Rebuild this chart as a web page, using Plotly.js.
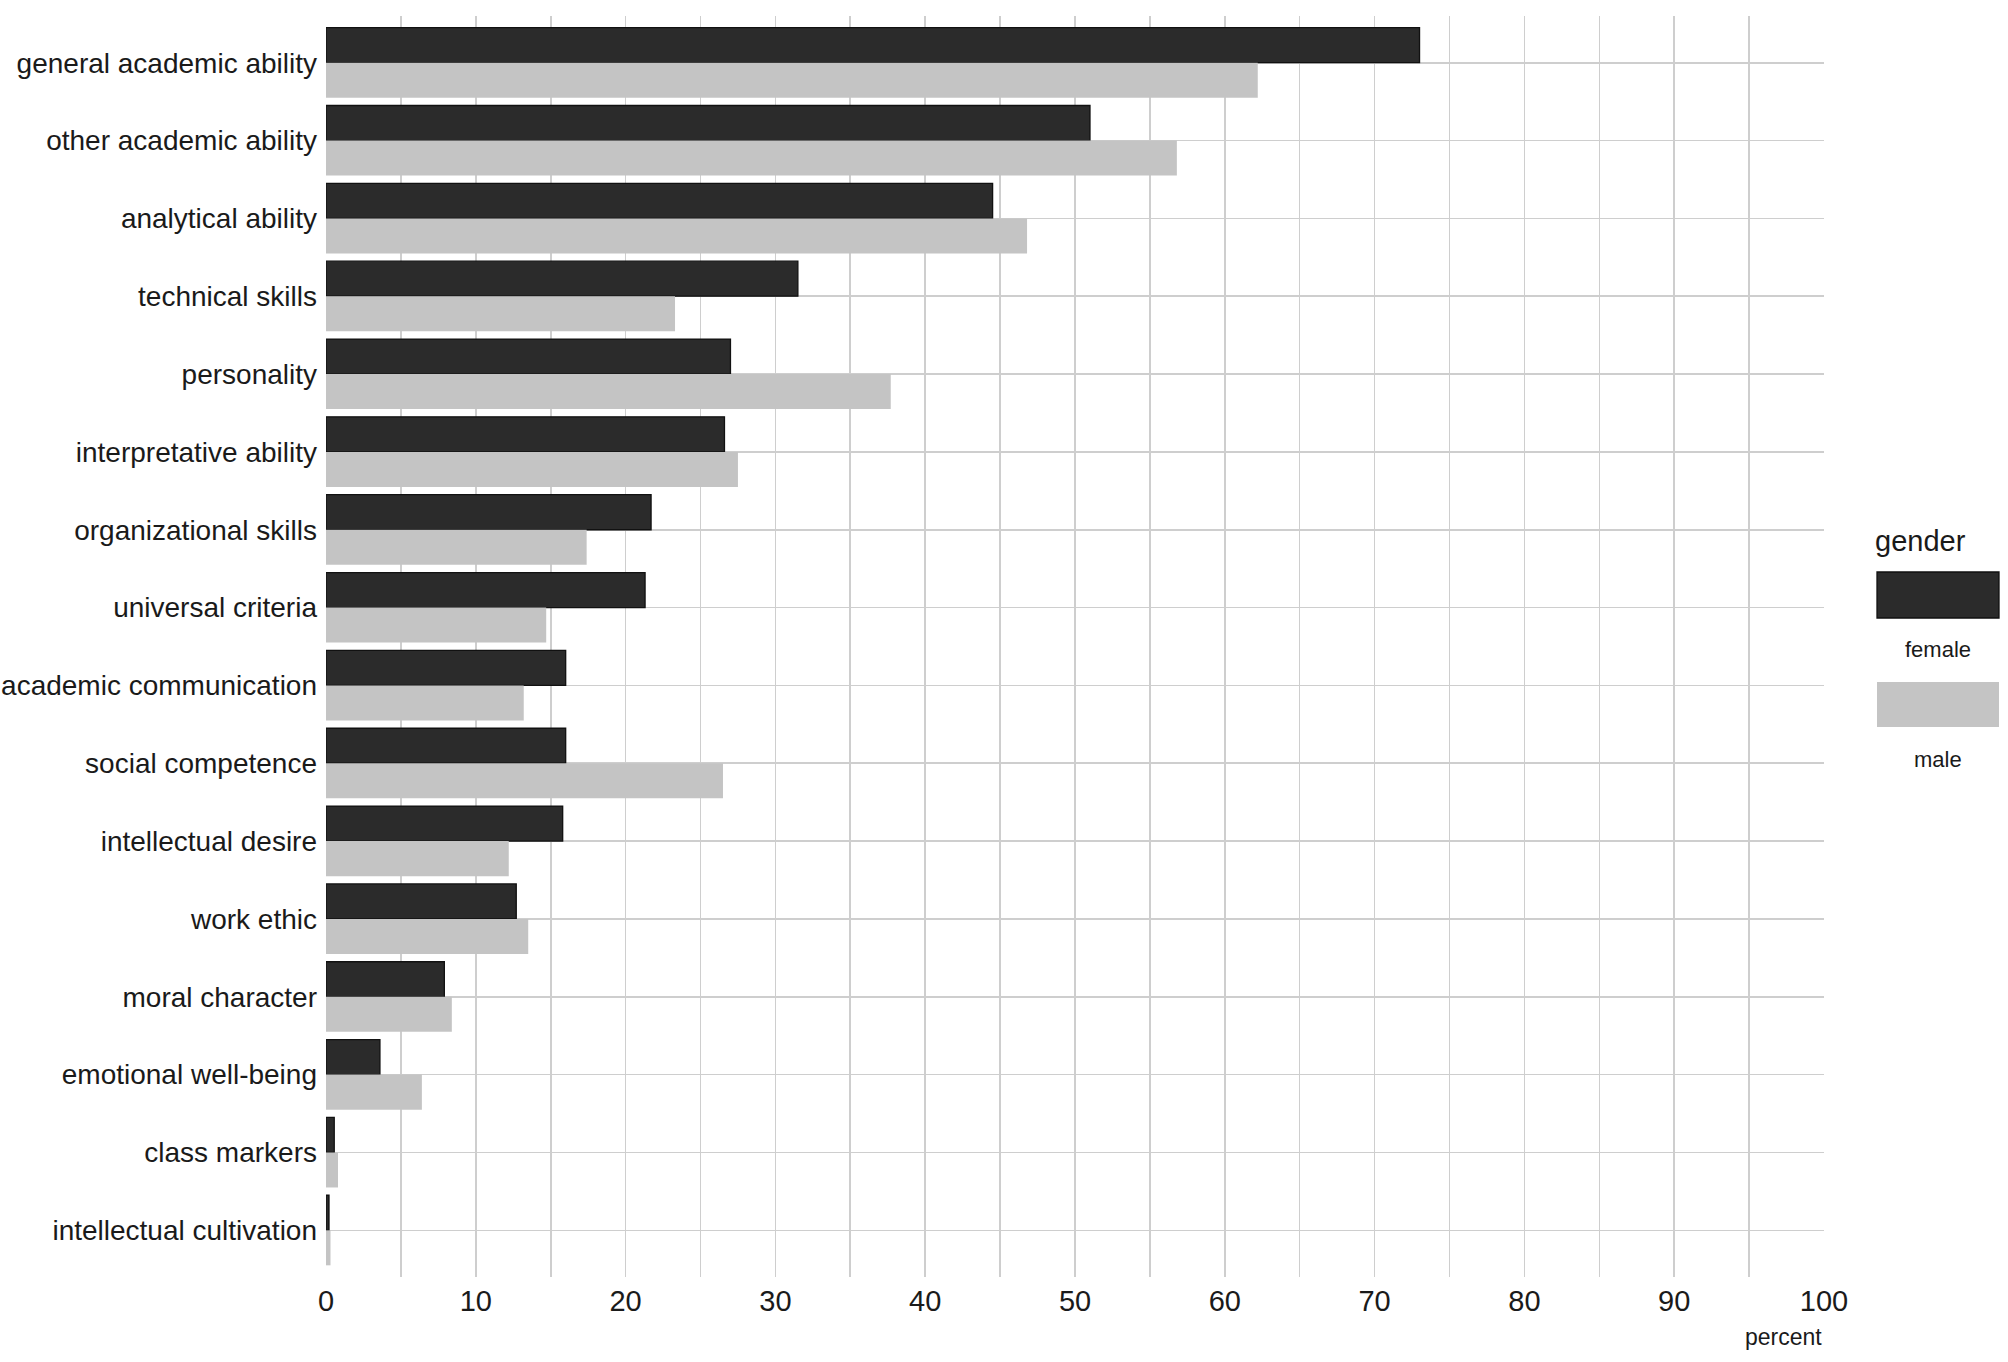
<!DOCTYPE html>
<html>
<head>
<meta charset="utf-8">
<script src="https://cdn.plot.ly/plotly-3.0.1.min.js"></script>
<style>html,body{margin:0;padding:0;background:#fff;}#chart{width:2008px;height:1362px;}</style>
</head>
<body>
<div id="chart"></div>
<script>
const categories = [
  "general academic ability", "other academic ability", "analytical ability",
  "technical skills", "personality", "interpretative ability",
  "organizational skills", "universal criteria", "academic communication",
  "social competence", "intellectual desire", "work ethic",
  "moral character", "emotional well-being", "class markers",
  "intellectual cultivation"
];
const femaleValues = [73.0, 51.0, 44.5, 31.5, 27.0, 26.6, 21.7, 21.3, 16.0, 16.0, 15.8, 12.7, 7.9, 3.6, 0.55, 0.2];
const maleValues   = [62.2, 56.8, 46.8, 23.3, 37.7, 27.5, 17.4, 14.7, 13.2, 26.5, 12.2, 13.5, 8.4, 6.4, 0.8, 0.3];
const seriesNames = ["female", "male"];
const seriesColors = ["#2b2b2b", "#c4c4c4"];
const xTickVals = [0, 10, 20, 30, 40, 50, 60, 70, 80, 90, 100];
const legendTitle = "gender";
const xTitle = "percent";

const mainFont = "Liberation Sans, Arial, sans-serif";

const traces = [
  {
    type: "bar", orientation: "h", name: seriesNames[0],
    y: categories, x: femaleValues,
    marker: {color: seriesColors[0], line: {color: "#111111", width: 1.3}},
    hoverinfo: "x+y+name"
  },
  {
    type: "bar", orientation: "h", name: seriesNames[1],
    y: categories, x: maleValues,
    marker: {color: seriesColors[1], line: {width: 0}},
    hoverinfo: "x+y+name"
  }
];

// plot area: left 326, right 1824, top 16, bottom 1277
const W = 1498, H = 1261;
const px = v => (v - 326) / W;
const py = v => (1277 - v) / H;

const layout = {
  width: 2008, height: 1362,
  margin: {l: 326, r: 184, t: 16, b: 85, pad: 0},
  paper_bgcolor: "#ffffff", plot_bgcolor: "#ffffff",
  barmode: "group", bargap: 0.1, bargroupgap: 0,
  showlegend: false,
  xaxis: {
    range: [0, 100], tickvals: xTickVals, ticktext: xTickVals.map(String),
    showgrid: true, gridcolor: "#cecece", gridwidth: 1.6,
    minor: {dtick: 5, tick0: 0, showgrid: true, gridcolor: "#cecece", gridwidth: 1.6},
    zeroline: false, showline: false, ticks: "", ticklabelstandoff: 4,
    tickfont: {family: mainFont, size: 29, color: "#1a1a1a"},
    fixedrange: true
  },
  yaxis: {
    type: "category", range: [15.6, -0.6],
    showgrid: true, gridcolor: "#cecece", gridwidth: 1.6,
    zeroline: false, showline: false, ticks: "", ticklabelstandoff: 8,
    tickfont: {family: mainFont, size: 28, color: "#1a1a1a"},
    fixedrange: true
  },
  shapes: [
    {type: "rect", xref: "paper", yref: "paper", x0: px(1877), x1: px(1999), y0: py(618), y1: py(572),
     fillcolor: seriesColors[0], line: {color: "#111111", width: 1.3}},
    {type: "rect", xref: "paper", yref: "paper", x0: px(1877), x1: px(1999), y0: py(727), y1: py(682),
     fillcolor: seriesColors[1], line: {width: 0}}
  ],
  annotations: [
    {text: legendTitle, xref: "paper", yref: "paper", x: px(1873), y: py(541), xanchor: "left", yanchor: "middle",
     showarrow: false, font: {family: mainFont, size: 29, color: "#1a1a1a"}},
    {text: seriesNames[0], xref: "paper", yref: "paper", x: px(1938), y: py(649), xanchor: "center", yanchor: "middle",
     showarrow: false, font: {family: mainFont, size: 22, color: "#1a1a1a"}},
    {text: seriesNames[1], xref: "paper", yref: "paper", x: px(1938), y: py(759), xanchor: "center", yanchor: "middle",
     showarrow: false, font: {family: mainFont, size: 22, color: "#1a1a1a"}},
    {text: xTitle, xref: "paper", yref: "paper", x: 1, y: py(1337), xanchor: "right", yanchor: "middle",
     showarrow: false, font: {family: mainFont, size: 23, color: "#1a1a1a"}}
  ]
};

Plotly.newPlot("chart", traces, layout, {displayModeBar: false, staticPlot: true});
</script>
</body>
</html>
